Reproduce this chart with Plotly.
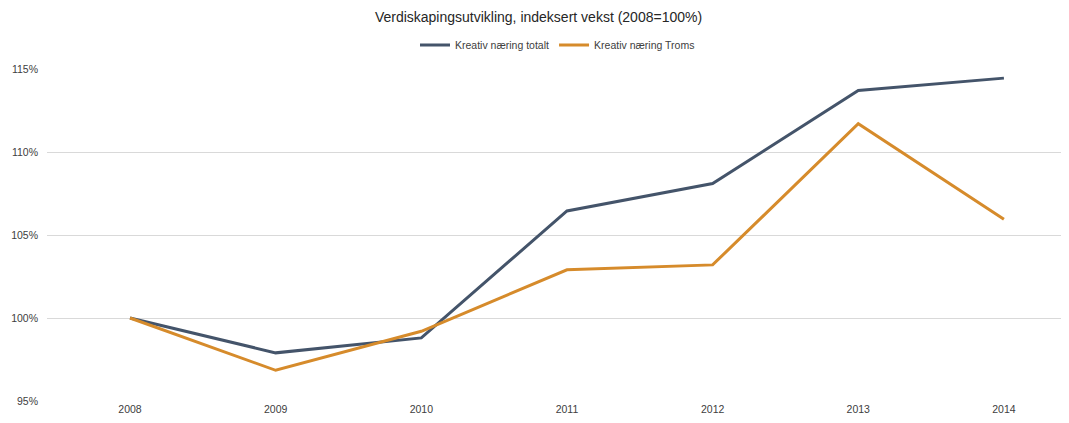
import plotly.graph_objects as go

years = [2008, 2009, 2010, 2011, 2012, 2013, 2014]
totalt = [100.0, 97.9, 98.8, 106.45, 108.1, 113.7, 114.45]
troms = [100.0, 96.85, 99.2, 102.9, 103.2, 111.7, 105.95]
series_names = ["Kreativ næring totalt", "Kreativ næring Troms"]
y_ticks = [95, 100, 105, 110, 115]
y_ticktext = ["95%", "100%", "105%", "110%", "115%"]
title = "Verdiskapingsutvikling, indeksert vekst (2008=100%)"

font = "Liberation Sans"
fig = go.Figure()
fig.add_trace(go.Scatter(x=years, y=totalt, mode="lines", name=series_names[0],
                         line=dict(color="#44546A", width=3)))
fig.add_trace(go.Scatter(x=years, y=troms, mode="lines", name=series_names[1],
                         line=dict(color="#D68B2B", width=3)))

fig.update_layout(
    width=1061, height=415,
    margin=dict(l=39, r=1, t=61, b=22, autoexpand=False),
    paper_bgcolor="white", plot_bgcolor="white",
    font=dict(family=font, size=10, color="#404040"),
    title=dict(text=title, x=0.5, xanchor="center", y=0.978, yanchor="middle",
               font=dict(family=font, size=14, color="#262626")),
    legend=dict(orientation="h", x=0.5, xanchor="center", y=1.072, yanchor="middle",
                font=dict(family=font, size=10.5, color="#404040"),
                itemwidth=30, tracegroupgap=0),
    showlegend=True,
)
fig.update_xaxes(range=[2007.43, 2014.44], tickvals=years, ticktext=[str(y) for y in years],
                 showgrid=False, zeroline=False, showline=False, ticks="", automargin=False,
                 tickfont=dict(size=10.5))
fig.update_yaxes(range=[95, 115], tickvals=y_ticks, ticktext=y_ticktext,
                 showgrid=True, gridcolor="#D9D9D9", gridwidth=1, zeroline=False,
                 showline=False, ticks="", ticklabelstandoff=8, automargin=False,
                 tickfont=dict(size=10.5))

fig.write_html("out.html")
